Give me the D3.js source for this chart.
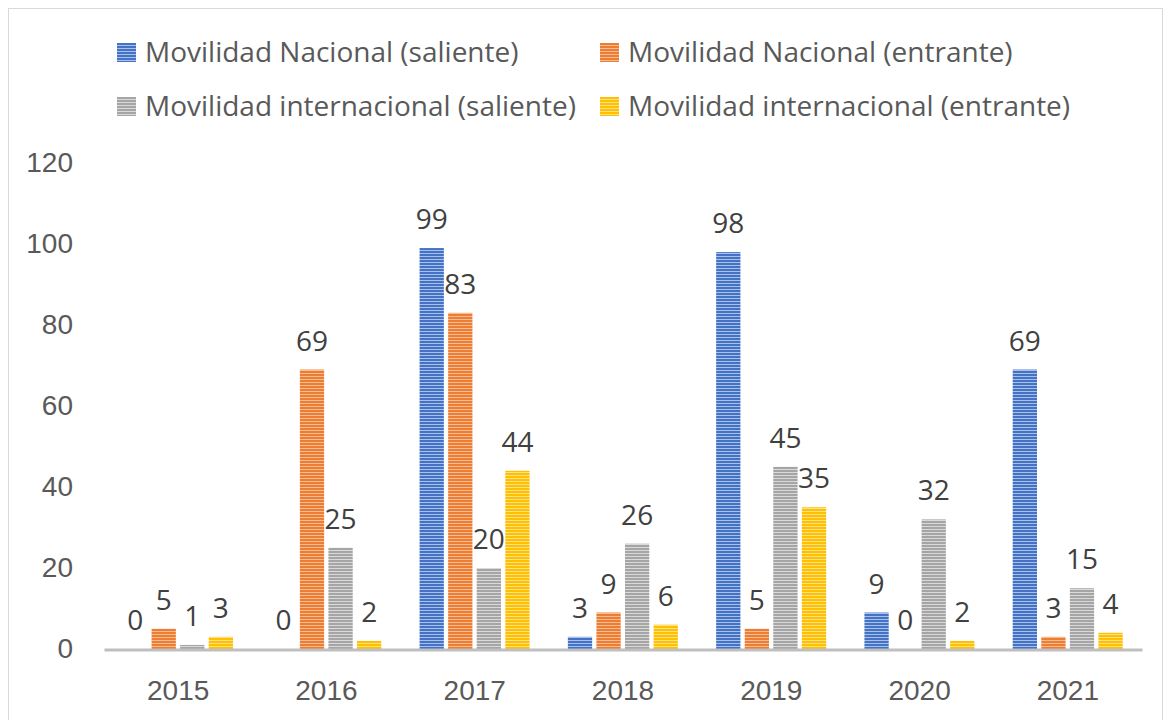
<!DOCTYPE html>
<html>
<head>
<meta charset="utf-8">
<script src="https://cdn.jsdelivr.net/npm/d3@7"></script>
<style>
  body { margin: 0; background: #fff; }
  svg { font-family: "Open Sans", Lato, sans-serif; }
</style>
</head>
<body>
<svg id="chart" width="1167" height="720"></svg>
<script>
// data
var years = ["2015", "2016", "2017", "2018", "2019", "2020", "2021"];
var seriesNames = ["Movilidad Nacional (saliente)", "Movilidad Nacional (entrante)",
                   "Movilidad internacional (saliente)", "Movilidad internacional (entrante)"];
var nacionalSaliente = [0, 0, 99, 3, 98, 9, 69];
var nacionalEntrante = [5, 69, 83, 9, 5, 0, 3];
var internacionalSaliente = [1, 25, 20, 26, 45, 32, 15];
var internacionalEntrante = [3, 2, 44, 6, 35, 2, 4];
var yTicks = [0, 20, 40, 60, 80, 100, 120];

var colors = ["#4472C4", "#ED7D31", "#A5A5A5", "#FFC000"];
var lights = ["#A9C0EA", "#F6BC97", "#D9D9D9", "#FFE08A"];
var allSeries = [nacionalSaliente, nacionalEntrante, internacionalSaliente, internacionalEntrante];

var svg = d3.select("#chart");

// outer border
svg.append("rect")
    .attr("x", 8.5).attr("y", 8.5)
    .attr("width", 1154).attr("height", 720)
    .attr("fill", "#fff")
    .attr("stroke", "#D9D9D9")
    .attr("stroke-width", 1);

// striped patterns (horizontal lines)
var defs = svg.append("defs");
colors.forEach(function(c, i) {
    var p = defs.append("pattern")
        .attr("id", "stripe" + i)
        .attr("patternUnits", "userSpaceOnUse")
        .attr("width", 8).attr("height", 3);
    p.append("rect").attr("width", 8).attr("height", 3).attr("fill", c);
    p.append("rect").attr("y", 1).attr("width", 8).attr("height", 1).attr("fill", lights[i]);
});

var x0 = d3.scaleBand().domain(years).range([104, 1142]).paddingInner(0).paddingOuter(0);
var x1 = d3.scaleBand().domain(d3.range(4)).range([19, 129]).paddingInner(0.15);
var y = d3.scaleLinear().domain([0, 120]).range([649, 163]);

// y axis labels
var yAxis = svg.append("g")
    .attr("transform", "translate(73,0)")
    .call(d3.axisLeft(y).tickValues(yTicks).tickSize(0).tickPadding(0));
yAxis.select(".domain").remove();
yAxis.selectAll("text")
    .attr("fill", "#595959")
    .style("font-size", "28px")
    .attr("text-anchor", "end");

// bars
var groups = svg.append("g").selectAll("g")
    .data(years)
    .enter().append("g")
    .attr("transform", function(d) { return "translate(" + x0(d) + ",0)"; });

groups.selectAll("rect")
    .data(function(d, i) { return allSeries.map(function(s, k) { return { k: k, v: s[i] }; }); })
    .enter().append("rect")
    .attr("x", function(d) { return x1(d.k); })
    .attr("y", function(d) { return y(d.v); })
    .attr("width", x1.bandwidth())
    .attr("height", function(d) { return y(0) - y(d.v); })
    .attr("fill", function(d) { return "url(#stripe" + d.k + ")"; });

groups.selectAll("text")
    .data(function(d, i) { return allSeries.map(function(s, k) { return { k: k, v: s[i] }; }); })
    .enter().append("text")
    .attr("x", function(d) { return x1(d.k) + x1.bandwidth() / 2; })
    .attr("y", function(d) { return y(d.v) - 19; })
    .attr("text-anchor", "middle")
    .attr("fill", "#404040")
    .style("font-size", "28px")
    .text(function(d) { return d.v; });

// x axis
var xAxis = svg.append("g")
    .attr("transform", "translate(0,649.5)")
    .call(d3.axisBottom(x0).tickSize(0));
xAxis.select(".domain").attr("stroke", "#BFBFBF").attr("stroke-width", 3);
xAxis.selectAll("text")
    .attr("y", 50).attr("dy", 0)
    .attr("fill", "#595959")
    .style("font-size", "28px");

// legend
var legendPos = [[117, 53], [600, 53], [117, 107], [600, 107]];
var legend = svg.append("g").selectAll("g")
    .data(seriesNames)
    .enter().append("g")
    .attr("transform", function(d, i) { return "translate(" + legendPos[i][0] + "," + legendPos[i][1] + ")"; });
legend.append("rect")
    .attr("x", 0).attr("y", -10)
    .attr("width", 19).attr("height", 19)
    .attr("fill", function(d, i) { return "url(#stripe" + i + ")"; });
legend.append("text")
    .attr("x", 28).attr("y", 9)
    .attr("fill", "#595959")
    .style("font-size", "28px")
    .text(function(d) { return d; });
</script>
</body>
</html>
